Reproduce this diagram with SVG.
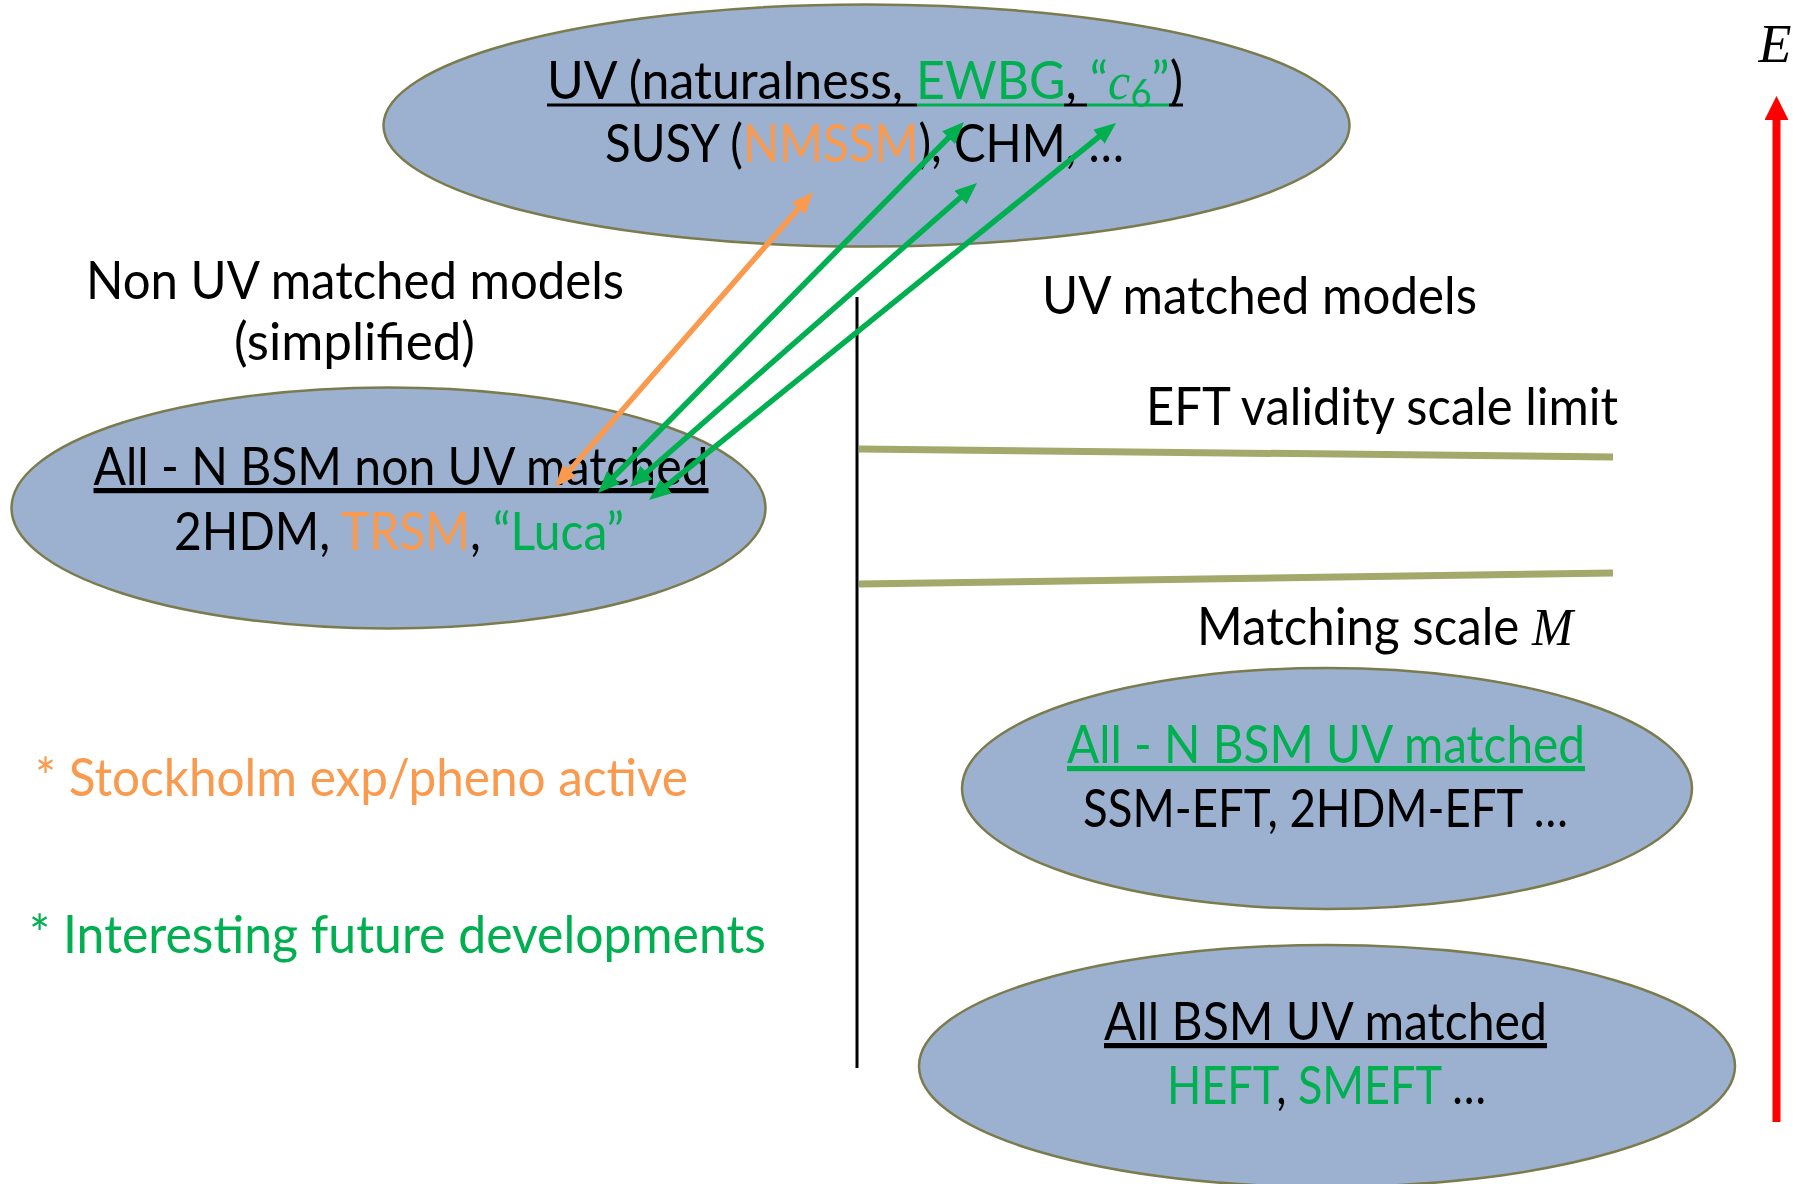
<svg xmlns="http://www.w3.org/2000/svg" width="1804" height="1184" viewBox="0 0 1804 1184">
<style>
.ell{fill:#9BB1CF;stroke:#7B7B4E;stroke-width:2.5}
.t{font-family:Lato,"Liberation Sans",sans-serif;font-size:52px;fill:#000}
.c{text-anchor:middle}
.u{text-decoration:underline;text-decoration-skip-ink:none}
.g{fill:#00B050}
.o{fill:#FA9A4E}
.m{font-family:"Liberation Serif",serif;font-style:italic}
.ga{stroke:#00B050;stroke-width:5.5;fill:none;marker-start:url(#hg);marker-end:url(#hg)}
.oa{stroke:#FA9A4E;stroke-width:5.5;fill:none;marker-start:url(#ho);marker-end:url(#ho)}
.ol{stroke:#A3A86B;stroke-width:7}
.ul{stroke-width:3}
</style>
<defs>
<marker id="hg" viewBox="0 0 22 18" refX="14" refY="9" markerWidth="22" markerHeight="18" markerUnits="userSpaceOnUse" orient="auto-start-reverse"><path d="M0,0 L22,9 L0,18 z" fill="#00B050"/></marker>
<marker id="ho" viewBox="0 0 22 18" refX="14" refY="9" markerWidth="22" markerHeight="18" markerUnits="userSpaceOnUse" orient="auto-start-reverse"><path d="M0,0 L22,9 L0,18 z" fill="#FA9A4E"/></marker>
<marker id="hr" viewBox="0 0 24 24" refX="2" refY="12" markerWidth="24" markerHeight="24" markerUnits="userSpaceOnUse" orient="auto"><path d="M0,0 L24,12 L0,24 z" fill="#FF0000"/></marker>
</defs>
<rect width="1804" height="1184" fill="#fff"/>

<g id="uv">
<ellipse class="ell" cx="866.5" cy="125.5" rx="483" ry="121"/>
<text class="t c" x="865" y="99" textLength="636" lengthAdjust="spacingAndGlyphs">UV (naturalness, <tspan class="g">EWBG</tspan>, <tspan class="g">“<tspan class="m">c</tspan><tspan dy="8" font-size="38">6</tspan><tspan dy="-8">”</tspan></tspan>)</text>
<line class="ul" x1="547" y1="105" x2="917" y2="105" stroke="#000"/>
<line class="ul" x1="917" y1="105" x2="1064" y2="105" stroke="#00B050"/>
<line class="ul" x1="1064" y1="105" x2="1087" y2="105" stroke="#000"/>
<line class="ul" x1="1087" y1="105" x2="1169" y2="105" stroke="#00B050"/>
<line class="ul" x1="1169" y1="105" x2="1183" y2="105" stroke="#000"/>
<text class="t c" x="864.5" y="162" textLength="519" lengthAdjust="spacingAndGlyphs">SUSY (<tspan class="o">NMSSM</tspan>), CHM, …</text>
</g>

<g id="nonuv-label">
<text class="t c" x="355" y="299" textLength="538" lengthAdjust="spacingAndGlyphs">Non UV matched models</text>
<text class="t c" x="354.5" y="360" textLength="241" lengthAdjust="spacingAndGlyphs">(simplified)</text>
</g>

<g id="nonuv">
<ellipse class="ell" cx="388.5" cy="508" rx="377" ry="120.5"/>
<text class="t c u" x="401" y="485" textLength="615" lengthAdjust="spacingAndGlyphs">All - N BSM non UV matched</text>
<text class="t c" x="399" y="550" textLength="450" lengthAdjust="spacingAndGlyphs">2HDM, <tspan class="o">TRSM</tspan>, <tspan class="g">“Luca”</tspan></text>
</g>

<g id="scale">
<line x1="857" y1="297" x2="857" y2="1068" stroke="#000" stroke-width="3"/>
<line class="ol" x1="859" y1="449" x2="1613" y2="457"/>
<line class="ol" x1="859" y1="584" x2="1613" y2="573"/>
<text class="t c" x="1259.5" y="314" textLength="435" lengthAdjust="spacingAndGlyphs">UV matched models</text>
<text class="t c" x="1382" y="425" textLength="472" lengthAdjust="spacingAndGlyphs">EFT validity scale limit</text>
<text class="t c" x="1385" y="645" textLength="376" lengthAdjust="spacingAndGlyphs">Matching scale <tspan class="m">M</tspan></text>
</g>

<g id="nuvm">
<ellipse class="ell" cx="1327" cy="788.5" rx="365" ry="120.5"/>
<text class="t c u g" x="1326" y="763" textLength="518" lengthAdjust="spacingAndGlyphs">All - N BSM UV matched</text>
<text class="t c" x="1325.5" y="827" textLength="485" lengthAdjust="spacingAndGlyphs">SSM-EFT, 2HDM-EFT …</text>
</g>

<g id="alluvm">
<ellipse class="ell" cx="1327" cy="1066" rx="408" ry="121"/>
<text class="t c u" x="1325.5" y="1040" textLength="443" lengthAdjust="spacingAndGlyphs">All BSM UV matched</text>
<text class="t c" x="1326.5" y="1104" textLength="319" lengthAdjust="spacingAndGlyphs"><tspan class="g">HEFT</tspan>, <tspan class="g">SMEFT</tspan> …</text>
</g>

<g id="legend">
<text class="t o" x="35" y="796" textLength="653" lengthAdjust="spacingAndGlyphs">* Stockholm exp/pheno active</text>
<text class="t g" x="29" y="953" textLength="737" lengthAdjust="spacingAndGlyphs">* Interesting future developments</text>
</g>

<g id="energy">
<line x1="1776.5" y1="1122" x2="1776.5" y2="118" stroke="#FF0000" stroke-width="8" marker-end="url(#hr)"/>
<text x="1775" y="62" font-family="Liberation Serif,serif" font-style="italic" font-size="54" text-anchor="middle">E</text>
</g>

<g id="connectors">
<line class="oa" x1="560.3" y1="481" x2="807.7" y2="198"/>
<line class="ga" x1="603.6" y1="487.3" x2="958.4" y2="127.7"/>
<line class="ga" x1="636" y1="481.7" x2="971" y2="188.3"/>
<line class="ga" x1="655.2" y1="495" x2="1109.8" y2="128"/>
</g>
</svg>
